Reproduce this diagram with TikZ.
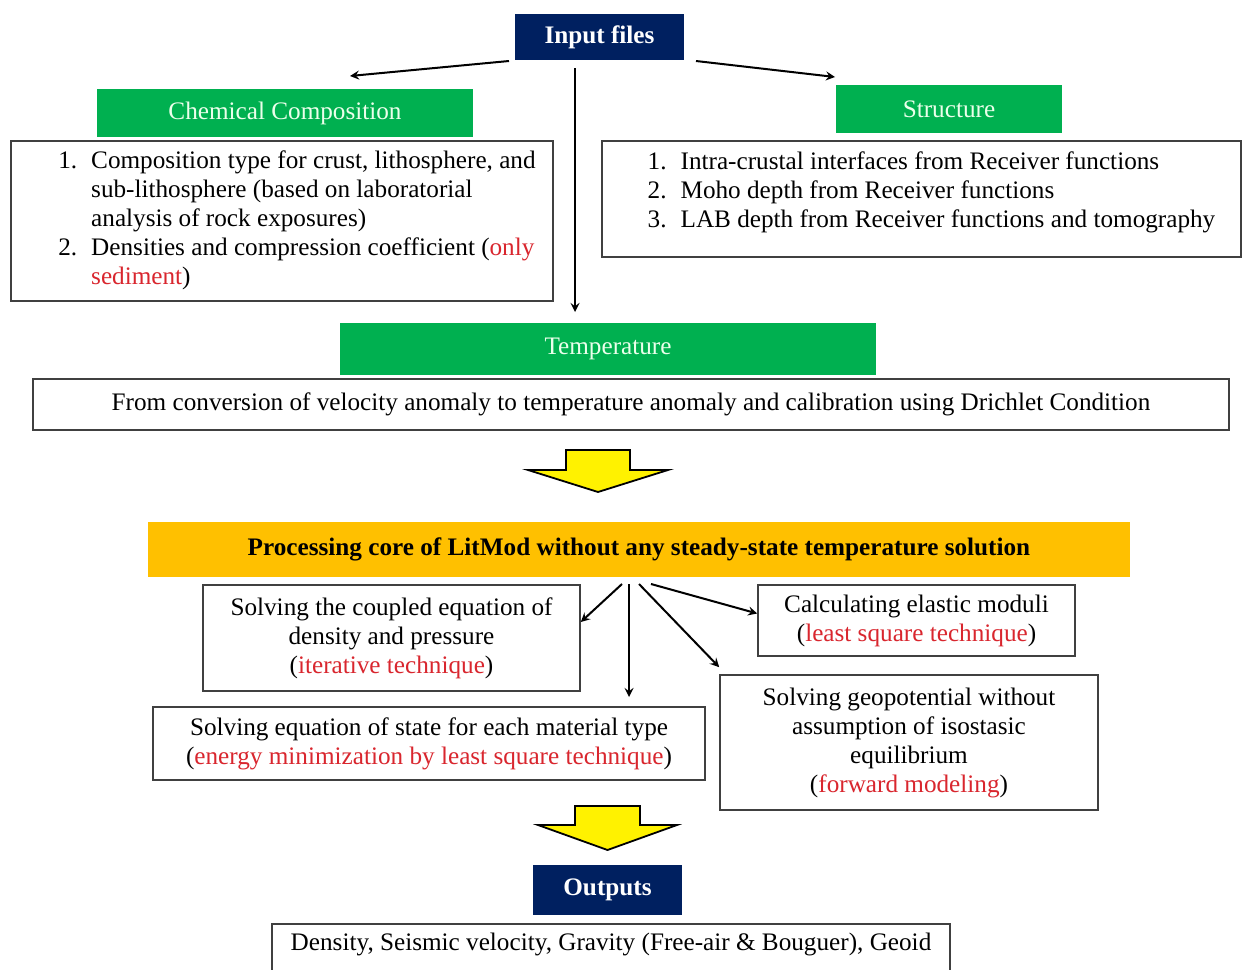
\documentclass[tikz,border=0pt]{standalone}
\usepackage{fontspec}
\setmainfont{Liberation Serif}
\usetikzlibrary{positioning}
\definecolor{navyblue}{HTML}{002060}
\definecolor{boxgreen}{HTML}{00B050}
\definecolor{boxorange}{HTML}{FFC000}
\definecolor{notered}{HTML}{D9262E}
\newcommand{\diagfont}{\fontsize{12.6}{14.5}\selectfont}
\newcommand{\rd}[1]{\textcolor{notered}{#1}}
\tikzset{
  navybox/.style={fill=navyblue, text=white, font=\diagfont\bfseries, inner sep=0pt},
  greenbox/.style={fill=boxgreen, text=green!8!white, font=\diagfont, inner sep=0pt},
  orangebox/.style={fill=boxorange, font=\diagfont\bfseries, inner sep=0pt},
  plainbox/.style={draw=black!75, line width=0.8pt, fill=white, font=\diagfont, inner sep=0pt, align=center},
  blockarrow/.style={draw=black, line width=0.9pt, fill=yellow},
}
\begin{document}
\begin{tikzpicture}[x=0.5pt, y=-0.5pt, >=stealth, line width=1pt]
\useasboundingbox (0,0) rectangle (1242,969);

% inputs
\node[navybox, minimum width=84.5pt, minimum height=23pt] (inp) at (599.5,37) {Input files};
\node[greenbox, minimum width=188pt, minimum height=24pt] (chem) at (285,113) {Chemical Composition};
\node[plainbox, minimum width=271pt, minimum height=80pt] (chembox) at (282,221) {\hspace*{15pt}%
\begin{tabular}{@{}r@{\hspace{7pt}}l@{}}
1. & Composition type for crust, lithosphere, and\\
   & sub-lithosphere (based on laboratorial\\
   & analysis of rock exposures)\\
2. & Densities and compression coefficient (\rd{only}\\
   & \rd{sediment})
\end{tabular}};
\node[greenbox, minimum width=113pt, minimum height=24pt] (struct) at (949,109) {Structure};
\node[plainbox, minimum width=319.5pt, minimum height=58pt] (structbox) at (921.5,199) {\hspace*{10pt}%
\raisebox{3pt}[\height][\depth]{\begin{tabular}{@{}r@{\hspace{7pt}}l@{}}
1. & Intra-crustal interfaces from Receiver functions\\
2. & Moho depth from Receiver functions\\
3. & LAB depth from Receiver functions and tomography
\end{tabular}}};
\node[greenbox, minimum width=268pt, minimum height=26pt] (temp) at (608,349) {Temperature};
\node[plainbox, minimum width=598pt, minimum height=25.5pt] (tempbox) at (631,404.5)
  {From conversion of velocity anomaly to temperature anomaly and calibration using Drichlet Condition};

\coordinate (chemin) at (350,76);
\coordinate (structin) at (835,77);
\coordinate (tempin) at (575,312);
\draw[->] ([xshift=-2.5pt]inp.south west) -- (chemin);
\draw[->] ([xshift=5.5pt]inp.south east) -- (structin);
\draw[->] ([yshift=-3.5pt]inp.south -| tempin) -- (tempin);

\draw[blockarrow] (566,450) -- (630,450) -- (630,470) -- (668,470) -- (598,492) -- (528,470) -- (566,470) -- cycle;

% processing core
\node[orangebox, minimum width=491pt, minimum height=27.5pt] (proc) at (639,549.5)
  {Processing core of LitMod without any steady-state temperature solution};
\node[plainbox, minimum width=188.5pt, minimum height=53pt] (coup) at (391.5,638)
  {Solving the coupled equation of\\density and pressure\\(\rd{iterative technique})};
\node[plainbox, minimum width=276pt, minimum height=36.5pt] (state) at (429,743.5)
  {Solving equation of state for each material type\\(\rd{energy minimization by least square technique})};
\node[plainbox, minimum width=158.5pt, minimum height=35.5pt] (elast) at (916.5,620.5)
  {Calculating elastic moduli\\(\rd{least square technique})};
\node[plainbox, minimum width=189pt, minimum height=67.5pt] (geo) at (909,742.5)
  {Solving geopotential without\\assumption of isostasic\\equilibrium\\(\rd{forward modeling})};

\coordinate (pdown) at (629,697);
\draw[->] ([xshift=-8.5pt,yshift=-3pt]proc.south) -- ([yshift=8pt]coup.east);
\draw[->, shorten <=3pt] (proc.south -| pdown) -- (pdown);
\draw[->] ([yshift=-3pt]proc.south) -- ([yshift=3.5pt]geo.north west);
\draw[->] ([xshift=6pt,yshift=-3pt]proc.south) -- ([yshift=3.5pt]elast.west);

\draw[blockarrow] (575,806) -- (640,806) -- (640,825) -- (677,825) -- (607.5,850) -- (538,825) -- (575,825) -- cycle;

% outputs
\node[navybox, minimum width=74.5pt, minimum height=25pt] (outp) at (607.5,890) {Outputs};
\node[plainbox, anchor=north, minimum width=339pt, inner ysep=4.5pt, text depth=20pt] (res) at (611,923)
  {Density, Seismic velocity, Gravity (Free-air \& Bouguer), Geoid};
\end{tikzpicture}
\end{document}
